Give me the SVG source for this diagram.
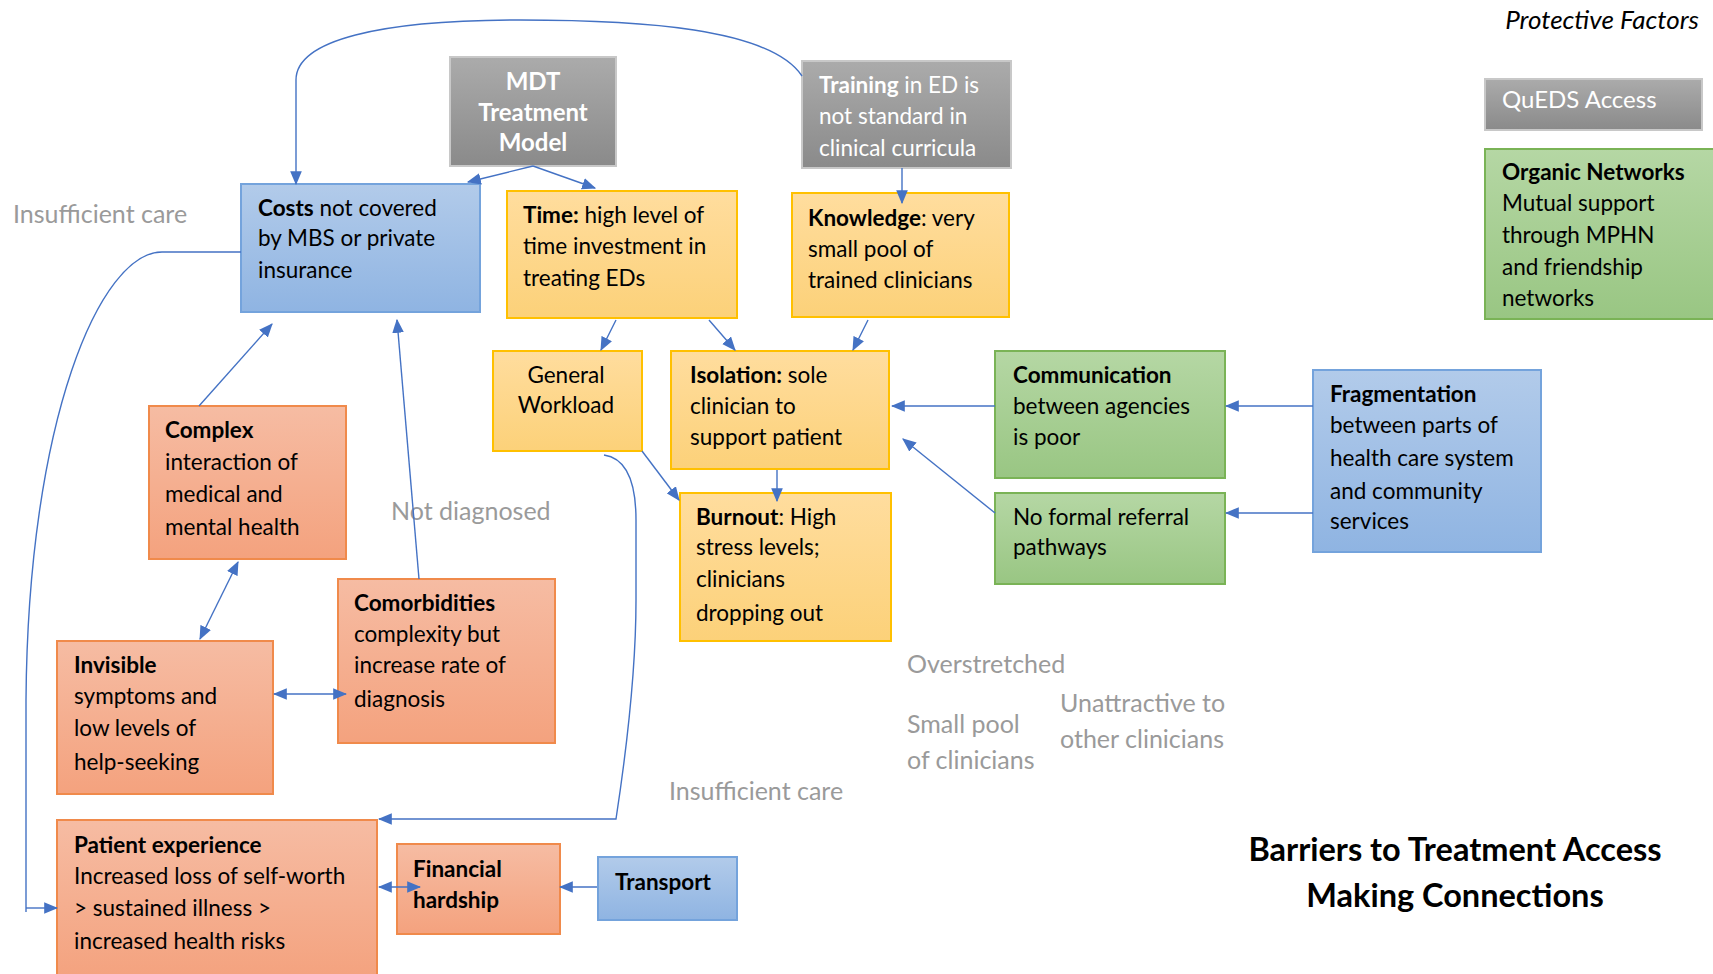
<svg xmlns="http://www.w3.org/2000/svg" width="1713" height="974" viewBox="0 0 1713 974">
<defs>
<linearGradient id="gGray" x1="0" y1="0" x2="0" y2="1"><stop offset="0" stop-color="#ababab"/><stop offset="1" stop-color="#8a8a8a"/></linearGradient>
<linearGradient id="gBlue" x1="0" y1="0" x2="0" y2="1"><stop offset="0" stop-color="#b2cbea"/><stop offset="1" stop-color="#8fb4e2"/></linearGradient>
<linearGradient id="gYel" x1="0" y1="0" x2="0" y2="1"><stop offset="0" stop-color="#ffdd9e"/><stop offset="1" stop-color="#fcd179"/></linearGradient>
<linearGradient id="gGrn" x1="0" y1="0" x2="0" y2="1"><stop offset="0" stop-color="#b5d7a4"/><stop offset="1" stop-color="#99c683"/></linearGradient>
<linearGradient id="gOr" x1="0" y1="0" x2="0" y2="1"><stop offset="0" stop-color="#f6bca3"/><stop offset="1" stop-color="#f4a27e"/></linearGradient>
<marker id="arr" viewBox="0 0 12 10" refX="11" refY="5" markerWidth="14" markerHeight="12" markerUnits="userSpaceOnUse" orient="auto-start-reverse">
<path d="M0,0 L12,5 L0,10 Z" fill="#4472c4"/>
</marker>
<style>
.gray{fill:url(#gGray);stroke:#c8c8c8;stroke-width:2}
.blue{fill:url(#gBlue);stroke:#74a3dc;stroke-width:2}
.yel{fill:url(#gYel);stroke:#ffc000;stroke-width:2}
.grn{fill:url(#gGrn);stroke:#7ab356;stroke-width:2}
.or{fill:url(#gOr);stroke:#f08a4b;stroke-width:2}
text{font-family:Lato,"Liberation Sans",sans-serif;font-size:22.5px;fill:#000}
.w{fill:#fff}
.b{font-weight:bold}
.lab{fill:#9a9a9a;font-size:25px}
.c{text-anchor:middle}
.con{fill:none;stroke:#4472c4;stroke-width:1.4}
</style>
</defs>

<g id="protective-title"><text x="1699" y="29" text-anchor="end" font-style="italic" style="font-size:26px">Protective Factors</text></g>

<g id="queds"><rect class="gray" x="1485" y="79" width="217" height="51"/>
<text class="w" x="1502" y="108" style="font-size:24px">QuEDS Access</text></g>

<g id="organic"><rect class="grn" x="1485" y="149" width="232" height="170"/>
<text x="1502" y="180" class="b">Organic Networks</text>
<text x="1502" y="211">Mutual support</text>
<text x="1502" y="243">through MPHN</text>
<text x="1502" y="275">and friendship</text>
<text x="1502" y="306">networks</text></g>

<g id="mdt"><rect class="gray" x="450" y="57" width="166" height="109"/>
<text class="w b c" x="533" y="90" style="font-size:24px">MDT</text>
<text class="w b c" x="533" y="121" style="font-size:24px">Treatment</text>
<text class="w b c" x="533" y="151" style="font-size:24px">Model</text></g>

<g id="training"><rect class="gray" x="802" y="61" width="209" height="107"/>
<text class="w" x="819" y="93"><tspan class="b">Training</tspan> in ED is</text>
<text class="w" x="819" y="124">not standard in</text>
<text class="w" x="819" y="156">clinical curricula</text></g>

<g id="costs"><rect class="blue" x="241" y="184" width="239" height="128"/>
<text x="258" y="216"><tspan class="b">Costs</tspan> not covered</text>
<text x="258" y="246">by MBS or private</text>
<text x="258" y="278">insurance</text></g>

<g id="time"><rect class="yel" x="507" y="191" width="230" height="127"/>
<text x="523" y="223"><tspan class="b">Time:</tspan> high level of</text>
<text x="523" y="254">time investment in</text>
<text x="523" y="286">treating EDs</text></g>

<g id="knowledge"><rect class="yel" x="792" y="193" width="217" height="124"/>
<text x="808" y="226"><tspan class="b">Knowledge</tspan>: very</text>
<text x="808" y="257">small pool of</text>
<text x="808" y="288">trained clinicians</text></g>

<g id="workload"><rect class="yel" x="493" y="351" width="149" height="100"/>
<text class="c" x="566" y="383">General</text>
<text class="c" x="566" y="413">Workload</text></g>

<g id="isolation"><rect class="yel" x="671" y="351" width="218" height="118"/>
<text x="690" y="383"><tspan class="b">Isolation:</tspan> sole</text>
<text x="690" y="414">clinician to</text>
<text x="690" y="445">support patient</text></g>

<g id="communication"><rect class="grn" x="995" y="351" width="230" height="127"/>
<text x="1013" y="383" class="b">Communication</text>
<text x="1013" y="414">between agencies</text>
<text x="1013" y="445">is poor</text></g>

<g id="referral"><rect class="grn" x="995" y="493" width="230" height="91"/>
<text x="1013" y="525">No formal referral</text>
<text x="1013" y="555">pathways</text></g>

<g id="fragmentation"><rect class="blue" x="1313" y="370" width="228" height="182"/>
<text x="1330" y="402" class="b">Fragmentation</text>
<text x="1330" y="433">between parts of</text>
<text x="1330" y="466">health care system</text>
<text x="1330" y="499">and community</text>
<text x="1330" y="529">services</text></g>

<g id="burnout"><rect class="yel" x="680" y="493" width="211" height="148"/>
<text x="696" y="525"><tspan class="b">Burnout</tspan>: High</text>
<text x="696" y="555">stress levels;</text>
<text x="696" y="587">clinicians</text>
<text x="696" y="621">dropping out</text></g>

<g id="complex"><rect class="or" x="149" y="406" width="197" height="153"/>
<text x="165" y="438" class="b">Complex</text>
<text x="165" y="470">interaction of</text>
<text x="165" y="502">medical and</text>
<text x="165" y="535">mental health</text></g>

<g id="comorbidities"><rect class="or" x="338" y="579" width="217" height="164"/>
<text x="354" y="611" class="b">Comorbidities</text>
<text x="354" y="642">complexity but</text>
<text x="354" y="673">increase rate of</text>
<text x="354" y="707">diagnosis</text></g>

<g id="invisible"><rect class="or" x="57" y="641" width="216" height="153"/>
<text x="74" y="673" class="b">Invisible</text>
<text x="74" y="704">symptoms and</text>
<text x="74" y="736">low levels of</text>
<text x="74" y="770">help-seeking</text></g>

<g id="patient"><rect class="or" x="57" y="820" width="320" height="160"/>
<text x="74" y="853" class="b">Patient experience</text>
<text x="74" y="884">Increased loss of self-worth</text>
<text x="74" y="916">&gt; sustained illness &gt;</text>
<text x="74" y="949">increased health risks</text></g>

<g id="financial"><rect class="or" x="397" y="844" width="163" height="90"/>
<text x="413" y="877" class="b">Financial</text>
<text x="413" y="908" class="b">hardship</text></g>

<g id="transport"><rect class="blue" x="598" y="857" width="139" height="63"/>
<text x="615" y="890" class="b">Transport</text></g>

<g id="labels">
<text class="lab" x="13" y="223">Insufficient care</text>
<text class="lab" x="391" y="520">Not diagnosed</text>
<text class="lab" x="907" y="673">Overstretched</text>
<text class="lab" x="907" y="733">Small pool</text>
<text class="lab" x="907" y="769">of clinicians</text>
<text class="lab" x="1060" y="712">Unattractive to</text>
<text class="lab" x="1060" y="748">other clinicians</text>
<text class="lab" x="669" y="800">Insufficient care</text>
</g>

<g id="title">
<text class="b c" x="1455" y="861" style="font-size:32.5px">Barriers to Treatment Access</text>
<text class="b c" x="1455" y="907" style="font-size:32.5px">Making Connections</text>
</g>

<g id="connectors">
<path class="con" d="M802,76 C770,28 640,20 520,20 C380,20 296,40 296,80 L296,184" marker-end="url(#arr)"/>
<path class="con" d="M533,166 L468,182" marker-end="url(#arr)"/>
<path class="con" d="M533,166 L595,188" marker-end="url(#arr)"/>
<path class="con" d="M241,252 L162,252 C100,252 28,420 26,700 L26,912"/>
<path class="con" d="M26,908 L57,908" marker-end="url(#arr)"/>
<path class="con" d="M604,455 C625,458 636,480 636,520 L636,600 C636,680 625,760 616,819 L379,819" marker-end="url(#arr)"/>
<path class="con" d="M616,320 L601,350" marker-end="url(#arr)"/>
<path class="con" d="M709,320 L735,350" marker-end="url(#arr)"/>
<path class="con" d="M868,320 L853,350" marker-end="url(#arr)"/>
<path class="con" d="M902,168 L902,203" marker-end="url(#arr)"/>
<path class="con" d="M995,406 L892,406" marker-end="url(#arr)"/>
<path class="con" d="M995,513 L903,439" marker-end="url(#arr)"/>
<path class="con" d="M1313,406 L1226,406" marker-end="url(#arr)"/>
<path class="con" d="M1313,513 L1226,513" marker-end="url(#arr)"/>
<path class="con" d="M777,470 L777,501" marker-end="url(#arr)"/>
<path class="con" d="M642,451 L679,500" marker-end="url(#arr)"/>
<path class="con" d="M199,406 L272,324" marker-end="url(#arr)"/>
<path class="con" d="M419,579 L397,320" marker-end="url(#arr)"/>
<path class="con" d="M238,562 L200,639" marker-start="url(#arr)" marker-end="url(#arr)"/>
<path class="con" d="M274,694 L346,694" marker-start="url(#arr)" marker-end="url(#arr)"/>
<path class="con" d="M379,887 L420,887" marker-start="url(#arr)" marker-end="url(#arr)"/>
<path class="con" d="M597,887 L560,887" marker-end="url(#arr)"/>
</g>
</svg>
